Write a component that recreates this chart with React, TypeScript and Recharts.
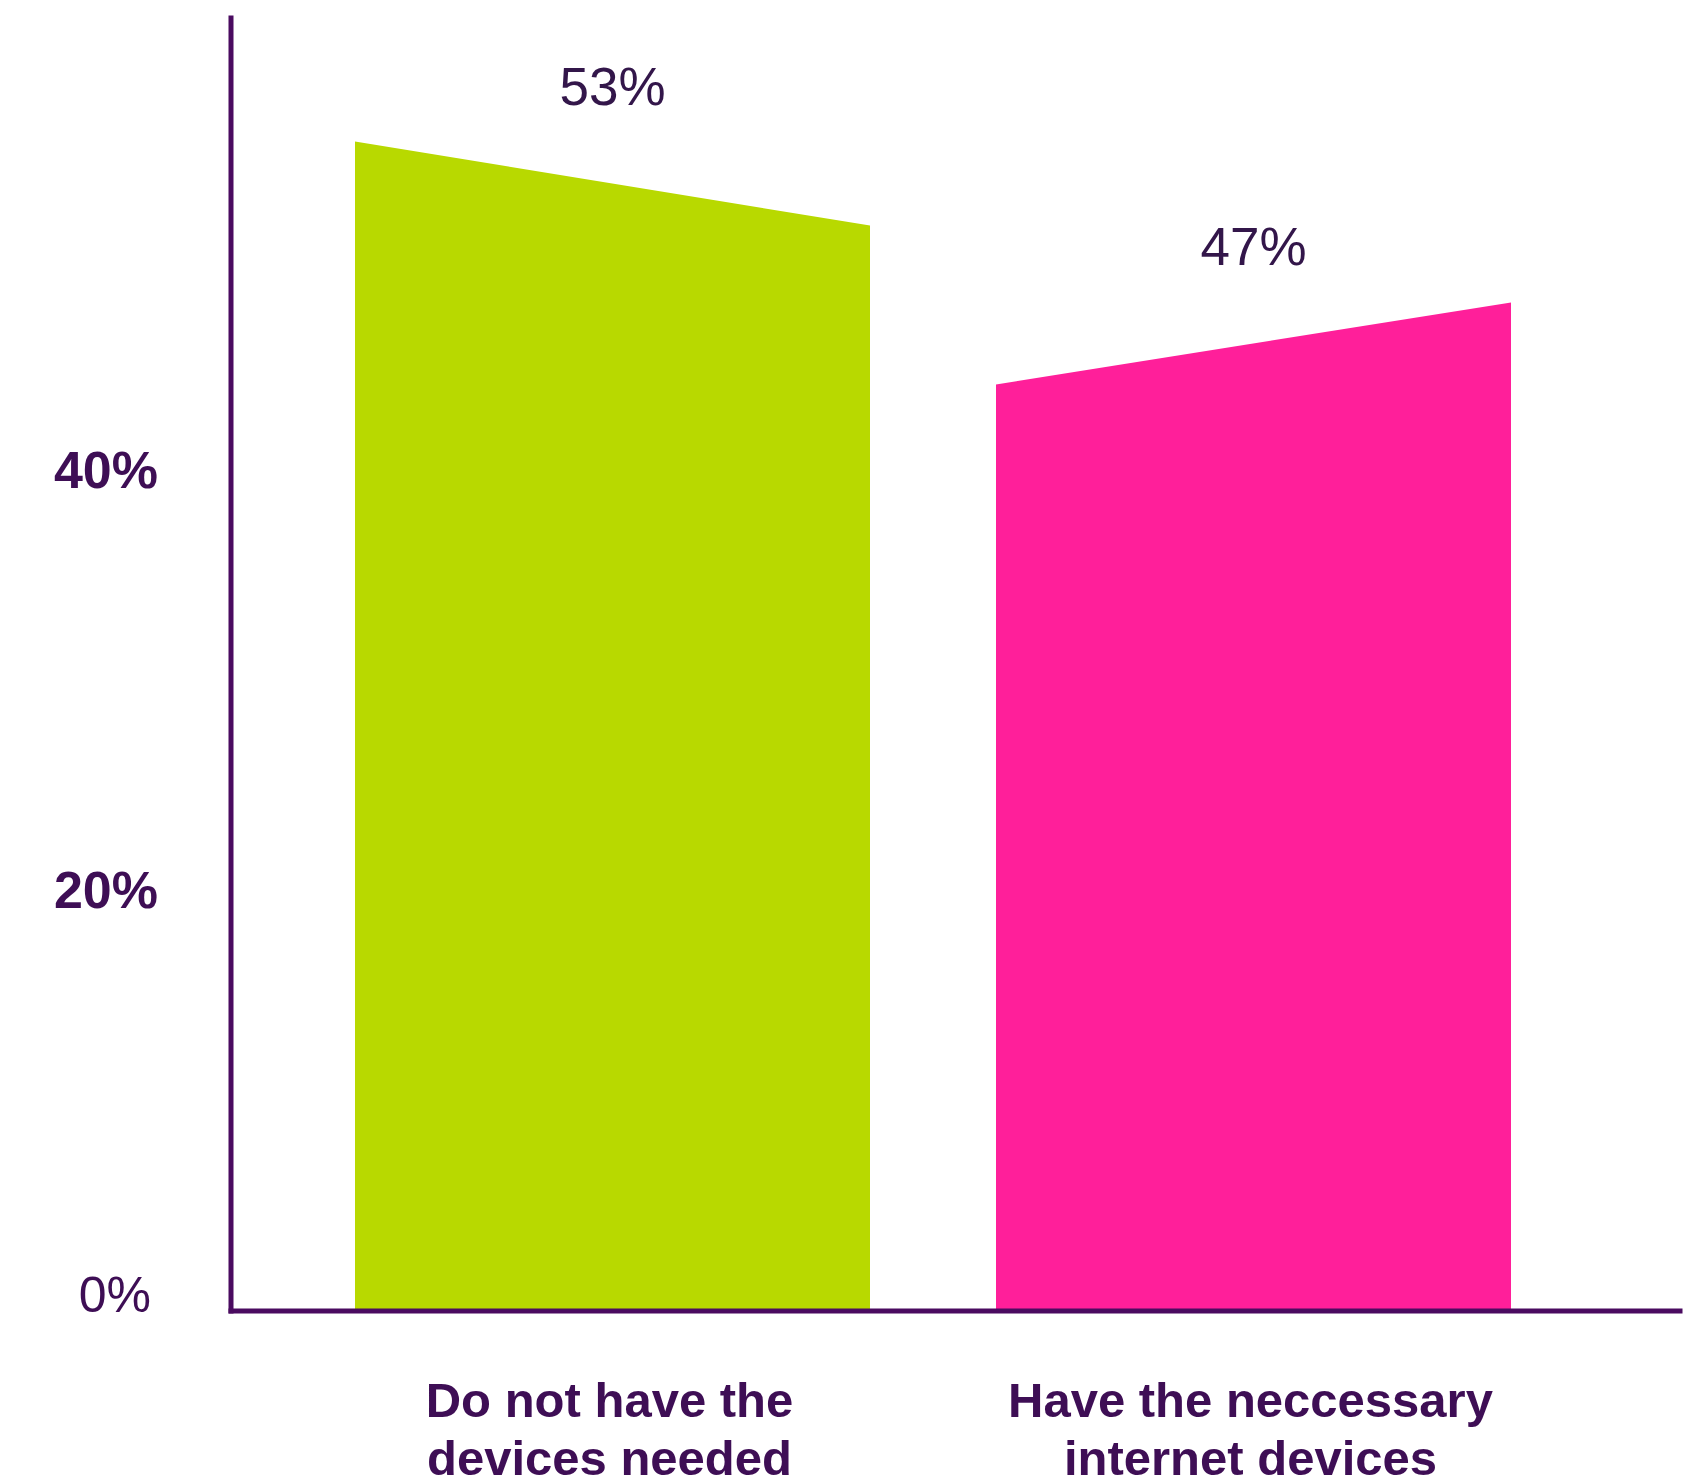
import React from "react";
import { BarChart, Bar, XAxis, YAxis, Cell, LabelList } from "recharts";

const categories = ["Do not have the devices needed", "Have the neccessary internet devices"];
const categoryLines = [
  ["Do not have the", "devices needed"],
  ["Have the neccessary", "internet devices"],
];
const values = [53, 47];
const valueLabels = ["53%", "47%"];
const yTicks = [0, 20, 40];
const yTickLabels = ["0%", "20%", "40%"];

const COLORS = ["#B8D900", "#FF1F9A"];
// style: vertical offsets of the top-left / top-right corners of each sloped bar top
const SLOPES: [number, number][] = [
  [-57, 27],
  [60, -22],
];
const FONT = "'Liberation Sans', Arial, Helvetica, sans-serif";
const AXIS = "#4A0B60";
const TEXT = "#3E0E55";

const data = categories.map((name, i) => ({ name, value: values[i] }));

function SlopedBar(props: any) {
  const { x, y, width, height, index, fill } = props;
  const [dl, dr] = SLOPES[index] || [0, 0];
  const bottom = y + height;
  const pts = `${x},${bottom} ${x},${y + dl} ${x + width},${y + dr} ${x + width},${bottom}`;
  return <polygon points={pts} fill={fill} />;
}

function ValueLabel(props: any) {
  const { x, y, width, index } = props;
  const [dl, dr] = SLOPES[index] || [0, 0];
  const top = y + Math.min(dl, dr);
  return (
    <text
      x={x + width / 2}
      y={top - 37}
      textAnchor="middle"
      fill="#33164A"
      fontFamily={FONT}
      fontSize={53}
    >
      {valueLabels[index]}
    </text>
  );
}

function XTick(props: any) {
  const { x, y, payload } = props;
  const i = categories.indexOf(payload.value);
  const lines = categoryLines[i] || [payload.value];
  return (
    <text textAnchor="middle" fill={TEXT} fontFamily={FONT} fontSize={49} fontWeight="bold">
      <tspan x={x - 3} y={y + 106}>{lines[0]}</tspan>
      <tspan x={x - 3} y={y + 164}>{lines[1]}</tspan>
    </text>
  );
}

function YTick(props: any) {
  const { x, y, payload } = props;
  const i = yTicks.indexOf(payload.value);
  const isZero = payload.value === 0;
  return (
    <text
      x={isZero ? x - 7 : x}
      y={isZero ? y + 1 : y + 17}
      textAnchor="end"
      fill={TEXT}
      fontFamily={FONT}
      fontSize={isZero ? 50 : 52}
      fontWeight={isZero ? "normal" : "bold"}
    >
      {yTickLabels[i]}
    </text>
  );
}

export default function App() {
  return (
    <div style={{ position: "absolute", left: 0, top: 0, width: 1686, height: 1484, background: "#fff" }}>
      <BarChart width={1686} height={1484} data={data} margin={{ top: 18, right: 6, bottom: 0, left: 0 }}>
        <XAxis
          dataKey="name"
          height={173}
          padding={{ left: 61, right: 106 }}
          tickLine={false}
          tickSize={0}
          tickMargin={0}
          axisLine={{ stroke: AXIS, strokeWidth: 5, strokeLinecap: "square" }}
          tick={<XTick />}
          interval={0}
        />
        <YAxis
          width={231}
          domain={[0, 61.6]}
          ticks={yTicks}
          tickLine={false}
          tickSize={0}
          tickMargin={73}
          axisLine={{ stroke: AXIS, strokeWidth: 5, strokeLinecap: "square" }}
          tick={<YTick />}
          interval={0}
        />
        <Bar dataKey="value" barSize={515} shape={<SlopedBar />} isAnimationActive={false}>
          {data.map((d, i) => (
            <Cell key={d.name} fill={COLORS[i]} />
          ))}
          <LabelList dataKey="value" content={<ValueLabel />} />
        </Bar>
      </BarChart>
    </div>
  );
}
